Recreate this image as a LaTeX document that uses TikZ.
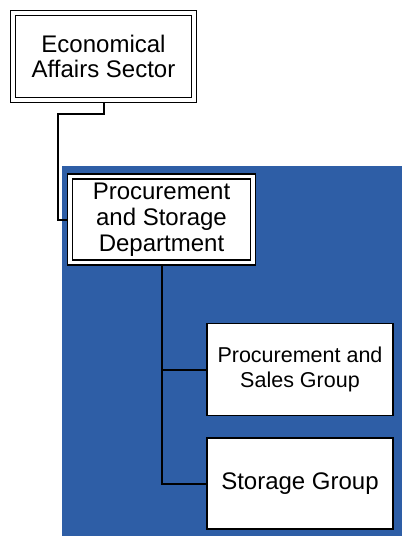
\documentclass[tikz,border=0pt]{standalone}
\usepackage{fontspec}
\setmainfont{Liberation Sans}
\pgfdeclarelayer{bg}
\pgfdeclarelayer{conn}
\pgfsetlayers{bg,conn,main}
\definecolor{panelblue}{RGB}{46,94,166}
\begin{document}
\begin{tikzpicture}[x=1pt,y=-1pt,
  dbox/.style={draw=black, line width=1.6pt, double=white, double distance=3.4pt,
    fill=white, inner sep=0pt, outer sep=0pt, align=center,
    font=\fontsize{24}{25.8}\selectfont},
  gbox/.style={draw=black, line width=1.8pt, fill=white, inner sep=0pt, outer sep=0pt,
    align=center, font=\fontsize{24}{25.5}\selectfont},
  small/.style={font=\fontsize{21.5}{25}\selectfont},
  link/.style={draw=black, line width=2pt}]
\useasboundingbox (0,0) rectangle (402,536);
\begin{pgfonlayer}{bg}
  \fill[panelblue] (62,166) rectangle (402,536);
\end{pgfonlayer}
\node[dbox, minimum width=181.25pt, minimum height=87pt] (top) at (103.5,56.5)
  {Economical\\Affairs Sector};
\node[dbox, minimum width=182.75pt, minimum height=86pt] (dept) at (161.5,219.5)
  {Procurement\\and Storage\\Department};
\node[gbox, small, minimum width=186pt, minimum height=92pt] (g1) at (300,369.5)
  {Procurement and\\Sales Group};
\node[gbox, minimum width=186pt, minimum height=91pt] (g2) at (300,483.5)
  {Storage Group};
\coordinate (k1) at (57.5,113.5);
\begin{pgfonlayer}{conn}
  \draw[link] (top.south) |- (k1) |- (dept.west);
  \draw[link] (dept.south) |- (g1.west);
  \draw[link] (dept.south) |- (g2.west);
\end{pgfonlayer}
\end{tikzpicture}
\end{document}
